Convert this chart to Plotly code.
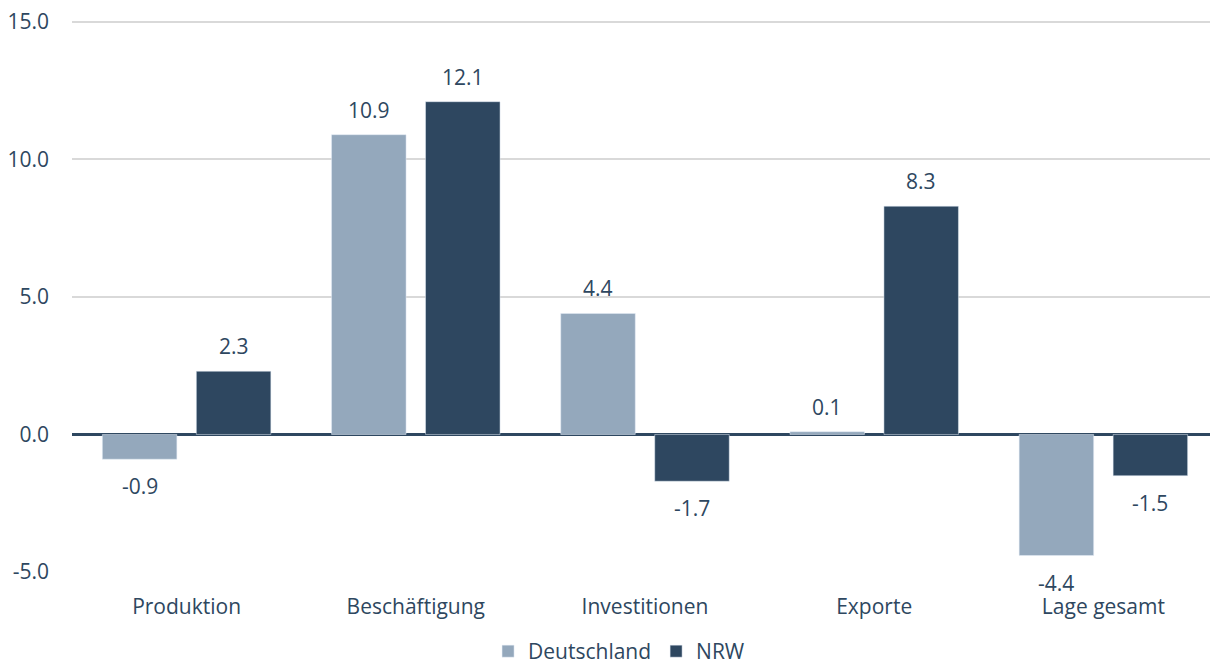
import plotly.graph_objects as go

categories = ["Produktion", "Beschäftigung", "Investitionen", "Exporte", "Lage gesamt"]
deutschland = [-0.9, 10.9, 4.4, 0.1, -4.4]
nrw = [2.3, 12.1, -1.7, 8.3, -1.5]
tick_vals = [-5, 0, 5, 10, 15]
tick_text = ["-5.0", "0.0", "5.0", "10.0", "15.0"]

text_color = "#2E4760"
font_family = "Open Sans"
fs = 21

fig = go.Figure()
fig.add_trace(go.Bar(name="Deutschland", x=categories, y=deutschland,
                     marker=dict(color="#94A8BC")))
fig.add_trace(go.Bar(name="NRW", x=categories, y=nrw,
                     marker=dict(color="#2E4760")))

# value labels placed outside the bars with a gap like the reference
for vals, shift in ((deutschland, -47), (nrw, 47)):
    for c, v in zip(categories, vals):
        fig.add_annotation(x=c, y=v, text=f"{v:.1f}", showarrow=False,
                           xshift=shift, yshift=25 if v >= 0 else -27,
                           yanchor="middle",
                           font=dict(size=fs, color=text_color, family=font_family))

fig.update_layout(
    width=1210, height=658,
    margin=dict(l=64, r=0, t=12, b=94),
    paper_bgcolor="white", plot_bgcolor="white",
    barmode="group", bargap=0.18, bargroupgap=0.207,
    font=dict(family=font_family, size=fs, color=text_color),
    showlegend=True,
    legend=dict(orientation="h", xref="container", yref="container",
                x=0.505, xanchor="center", y=0.022, yanchor="middle",
                font=dict(size=fs, color=text_color), traceorder="normal"),
)
fig.update_xaxes(showline=False, showgrid=False, ticks="", ticklabelstandoff=20,
                 tickfont=dict(size=fs, color=text_color))
fig.update_yaxes(range=[-5.0, 15.07], tickvals=tick_vals, ticktext=tick_text,
                 showgrid=True, gridcolor="#D9D9D9", gridwidth=1.5,
                 zeroline=True, zerolinecolor="#2E4760", zerolinewidth=3,
                 showline=False, ticks="", ticklabelstandoff=22,
                 ticklabeloverflow="allow", automargin=False,
                 tickfont=dict(size=fs, color=text_color))

fig.write_html("out.html")
